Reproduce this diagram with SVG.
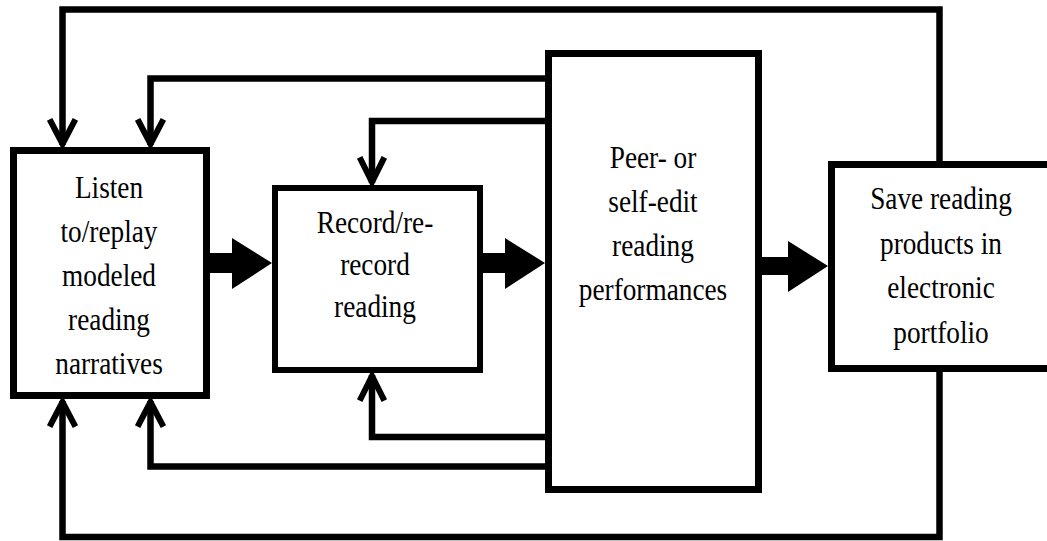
<svg xmlns="http://www.w3.org/2000/svg" width="1047" height="541" viewBox="0 0 1047 541">
<style>
.box{fill:#fff;stroke:#000;stroke-width:7}
.line{fill:none;stroke:#000;stroke-width:6.5;stroke-linejoin:miter;stroke-linecap:butt}
.head{fill:none;stroke:#000;stroke-width:6;stroke-linejoin:miter;stroke-linecap:square}
.big{fill:#000;stroke:none}
.lbl text{font-family:"Liberation Serif","Times New Roman","DejaVu Serif",serif;font-size:31px;fill:#000;text-anchor:middle}
</style>
<rect width="1047" height="541" fill="#fff"/>
<g id="connectors">
<path class="line" d="M939.5,161 V9.5 H62.5 V145"/>
<path class="head" d="M51,122 L62.5,144 L74,122"/>
<path class="line" d="M545,78.5 H150.5 V145"/>
<path class="head" d="M139,122 L150.5,144 L162,122"/>
<path class="line" d="M545,121 H372 V183"/>
<path class="head" d="M361,160 L372,182 L383,160"/>
<path class="line" d="M545,437 H372 V375"/>
<path class="head" d="M361,398 L372,376 L383,398"/>
<path class="line" d="M545,466.5 H150.5 V401"/>
<path class="head" d="M139,424 L150.5,402 L162,424"/>
<path class="line" d="M939.5,372 V537 H62.5 V401"/>
<path class="head" d="M51,424 L62.5,402 L74,424"/>
<path class="big" d="M208,253 H232 V238 L272,263 L232,289 V273 H208 Z"/>
<path class="big" d="M481,253 H505 V238 L545,263 L505,289 V273 H481 Z"/>
<path class="big" d="M760,257 H788 V241 L828,266 L788,292 V275 H760 Z"/>
</g>
<g id="node-listen">
<rect class="box" x="13.5" y="150.5" width="193" height="245"/>
<g class="lbl" transform="matrix(0.88 0 0 1 109 0)">
<text x="0" y="198">Listen</text>
<text x="0" y="242">to/replay</text>
<text x="0" y="286">modeled</text>
<text x="0" y="330">reading</text>
<text x="0" y="374">narratives</text>
</g>
</g>
<g id="node-record">
<rect class="box" x="275" y="188" width="205" height="182" style="stroke-width:6"/>
<g class="lbl" transform="matrix(0.88 0 0 1 375 0)">
<text x="0" y="233">Record/re-</text>
<text x="0" y="275">record</text>
<text x="0" y="317">reading</text>
</g>
</g>
<g id="node-edit">
<rect class="box" x="548.5" y="53.5" width="210" height="436"/>
<g class="lbl" transform="matrix(0.88 0 0 1 653 0)">
<text x="0" y="168">Peer- or</text>
<text x="0" y="212">self-edit</text>
<text x="0" y="256">reading</text>
<text x="0" y="300">performances</text>
</g>
</g>
<g id="node-save">
<rect class="box" x="831.5" y="164.5" width="230" height="204"/>
<g class="lbl" transform="matrix(0.88 0 0 1 941 0)">
<text x="0" y="209">Save reading</text>
<text x="0" y="254">products in</text>
<text x="0" y="298">electronic</text>
<text x="0" y="343">portfolio</text>
</g>
</g>
</svg>
